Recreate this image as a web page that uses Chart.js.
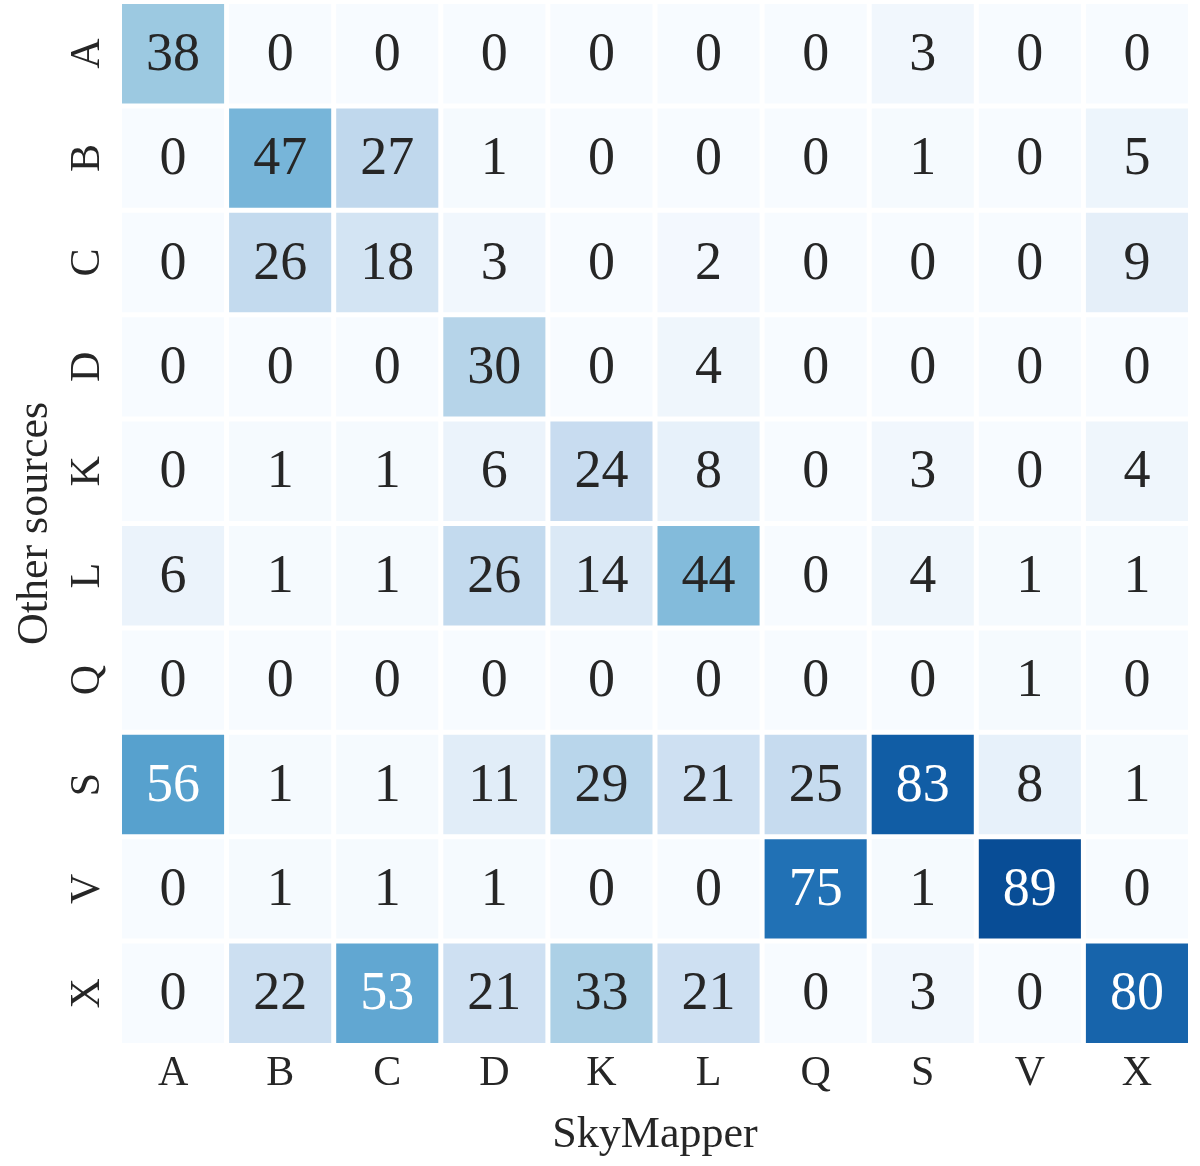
<!DOCTYPE html>
<html lang="en">
<head>
    <meta charset="UTF-8">
    <title>SkyMapper vs other sources</title>
    <script src="https://cdn.jsdelivr.net/npm/chart.js"></script>
    <style>
        body {
            margin: 0;
            padding: 0;
            background-color: #fff;
        }

        canvas {
            display: block;
        }
    </style>
</head>
<body>
    <canvas id="heatmap" width="1200" height="1166"></canvas>
    <script>
        // Classes (same order on both axes)
        const classes = ['A', 'B', 'C', 'D', 'K', 'L', 'Q', 'S', 'V', 'X'];

        // One row per "Other sources" class, columns follow SkyMapper classes
        const rowA = [38, 0, 0, 0, 0, 0, 0, 3, 0, 0];
        const rowB = [0, 47, 27, 1, 0, 0, 0, 1, 0, 5];
        const rowC = [0, 26, 18, 3, 0, 2, 0, 0, 0, 9];
        const rowD = [0, 0, 0, 30, 0, 4, 0, 0, 0, 0];
        const rowK = [0, 1, 1, 6, 24, 8, 0, 3, 0, 4];
        const rowL = [6, 1, 1, 26, 14, 44, 0, 4, 1, 1];
        const rowQ = [0, 0, 0, 0, 0, 0, 0, 0, 1, 0];
        const rowS = [56, 1, 1, 11, 29, 21, 25, 83, 8, 1];
        const rowV = [0, 1, 1, 1, 0, 0, 75, 1, 89, 0];
        const rowX = [0, 22, 53, 21, 33, 21, 0, 3, 0, 80];

        const rows = [rowA, rowB, rowC, rowD, rowK, rowL, rowQ, rowS, rowV, rowX];
        const vmax = 100;

        // matplotlib "Blues"
        const blues = ['#f7fbff', '#deebf7', '#c6dbef', '#9ecae1', '#6baed6',
                       '#4292c6', '#2171b5', '#08519c', '#08306b'];

        function hexToRgb(h) {
            return [1, 3, 5].map(i => parseInt(h.substr(i, 2), 16));
        }

        function bluesRgb(v) {
            let t = Math.max(0, Math.min(1, v / vmax)) * (blues.length - 1);
            const i = Math.min(Math.floor(t), blues.length - 2);
            const f = t - i;
            const a = hexToRgb(blues[i]), b = hexToRgb(blues[i + 1]);
            return a.map((c, k) => Math.round(c + (b[k] - c) * f));
        }

        function cellColor(v) {
            const c = bluesRgb(v);
            return `rgb(${c[0]},${c[1]},${c[2]})`;
        }

        // white text on dark cells, like seaborn
        function textColor(v) {
            const c = bluesRgb(v).map(x => {
                x = x / 255;
                return x <= 0.03928 ? x / 12.92 : Math.pow((x + 0.055) / 1.055, 2.4);
            });
            const lum = 0.2126 * c[0] + 0.7152 * c[1] + 0.0722 * c[2];
            return lum > 0.408 ? '#262626' : '#ffffff';
        }

        const n = classes.length;
        const datasets = rows.map((row, r) => ({
            label: classes[r],
            values: row,
            data: row.map(() => [n - 1 - r, n - r]),
            backgroundColor: row.map(cellColor),
            borderColor: '#ffffff',
            borderWidth: 2.5,
            borderSkipped: false,
            inflateAmount: 0,
            barPercentage: 1,
            categoryPercentage: 1
        }));

        // numbers inside cells + rotated row labels
        const heatText = {
            id: 'heatText',
            afterDatasetsDraw(chart) {
                const ctx = chart.ctx;
                ctx.save();
                ctx.font = '54px "Liberation Serif"';
                ctx.textAlign = 'center';
                ctx.textBaseline = 'middle';
                chart.data.datasets.forEach((ds, di) => {
                    chart.getDatasetMeta(di).data.forEach((bar, i) => {
                        const v = ds.values[i];
                        ctx.fillStyle = textColor(v);
                        ctx.fillText(String(v), bar.x, (bar.y + bar.base) / 2 + 2);
                    });
                });

                const yScale = chart.scales.y;
                ctx.font = '42px "Liberation Serif"';
                ctx.fillStyle = '#262626';
                classes.forEach((c, r) => {
                    const y = yScale.getPixelForValue(n - 1 - r + 0.5);
                    ctx.save();
                    ctx.translate(88, y);
                    ctx.rotate(-Math.PI / 2);
                    ctx.fillText(c, 0, 0);
                    ctx.restore();
                });
                ctx.restore();
            }
        };

        new Chart(document.getElementById('heatmap').getContext('2d'), {
            type: 'bar',
            data: {
                labels: classes,
                datasets: datasets
            },
            options: {
                responsive: false,
                animation: false,
                layout: {
                    padding: { top: 1.5, right: 9.5, left: 0, bottom: 0 }
                },
                plugins: {
                    legend: { display: false },
                    tooltip: { enabled: false }
                },
                scales: {
                    x: {
                        type: 'category',
                        stacked: true,
                        offset: true,
                        grid: { display: false, drawTicks: false },
                        border: { display: false },
                        ticks: {
                            color: '#262626',
                            padding: 3,
                            font: { family: 'Liberation Serif', size: 42 }
                        },
                        title: {
                            display: true,
                            text: 'SkyMapper',
                            color: '#262626',
                            padding: { top: 0, bottom: 4 },
                            font: { family: 'Liberation Serif', size: 44 }
                        },
                        afterFit(scale) {
                            scale.height = 120.5;
                        }
                    },
                    y: {
                        min: 0,
                        max: n,
                        stacked: false,
                        grid: { display: false, drawTicks: false },
                        border: { display: false },
                        ticks: { display: false },
                        title: {
                            display: true,
                            text: 'Other sources',
                            color: '#262626',
                            padding: { top: 9, bottom: 0 },
                            font: { family: 'Liberation Serif', size: 44 }
                        },
                        afterFit(scale) {
                            scale.width = 119.5;
                        }
                    }
                }
            },
            plugins: [heatText]
        });
    </script>
</body>
</html>
